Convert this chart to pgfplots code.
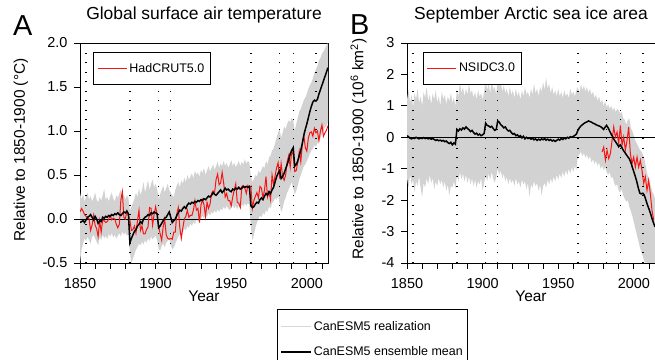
\documentclass[border=0pt]{standalone}
\usepackage{pgfplots}
\pgfplotsset{compat=1.18}
\usepackage{pgfplotstable}
\usepgfplotslibrary{fillbetween}
\usepackage{fontspec}
\setmainfont{Liberation Sans}
\definecolor{bandgray}{RGB}{210,210,210}
\definecolor{leggray}{RGB}{215,215,215}
\definecolor{obsred}{RGB}{250,20,20}
\newcommand\tickfont{\fontsize{14.5}{16}\selectfont}
\newcommand\labfont{\fontsize{15.5}{18}\selectfont}
\newcommand\titfont{\fontsize{17.5}{20}\selectfont}
\newcommand\legfont{\fontsize{12.5}{14}\selectfont}
\tikzset{volc/.style={black, line width=1.3bp, dash pattern=on 1.3bp off 8.2bp}}

\pgfplotstableread{
year lo up mean
1850 -0.50 0.30 -0.04
1851 -0.35 0.22 -0.03
1852 -0.28 0.28 -0.02
1853 -0.22 0.20 -0.04
1854 -0.25 0.25 -0.01
1855 -0.20 0.30 0.02
1856 -0.24 0.22 0.03
1857 -0.28 0.26 0.05
1858 -0.20 0.20 0.02
1859 -0.18 0.24 -0.01
1860 -0.22 0.30 0.03
1861 -0.26 0.22 0.00
1862 -0.30 0.19 -0.05
1863 -0.20 0.25 -0.02
1864 -0.24 0.21 -0.03
1865 -0.18 0.27 0.02
1866 -0.22 0.34 0.01
1867 -0.19 0.22 0.03
1868 -0.23 0.25 0.02
1869 -0.17 0.20 0.04
1870 -0.20 0.26 0.03
1871 -0.16 0.30 0.05
1872 -0.21 0.23 0.04
1873 -0.18 0.20 0.06
1874 -0.22 0.27 0.05
1875 -0.19 0.24 0.07
1876 -0.16 0.29 0.05
1877 -0.20 0.33 0.04
1878 -0.14 0.25 0.06
1879 -0.18 0.28 0.08
1880 -0.15 0.22 0.07
1881 -0.19 0.27 0.09
1882 -0.17 0.24 0.06
1883 -0.38 0.10 -0.27
1884 -0.50 0.14 -0.22
1885 -0.45 0.18 -0.18
1886 -0.40 0.23 -0.14
1887 -0.35 0.30 -0.12
1888 -0.32 0.25 -0.08
1889 -0.28 0.35 -0.06
1890 -0.30 0.27 -0.03
1891 -0.26 0.33 -0.05
1892 -0.29 0.42 0.00
1893 -0.24 0.30 0.02
1894 -0.27 0.37 0.03
1895 -0.22 0.44 0.05
1896 -0.25 0.33 0.04
1897 -0.20 0.40 0.07
1898 -0.23 0.45 0.06
1899 -0.21 0.36 0.08
1900 -0.19 0.40 0.07
1901 -0.24 0.34 0.06
1902 -0.34 0.22 -0.10
1903 -0.36 0.28 -0.08
1904 -0.31 0.33 -0.05
1905 -0.28 0.38 -0.02
1906 -0.32 0.30 0.01
1907 -0.27 0.35 0.02
1908 -0.25 0.40 0.05
1909 -0.22 0.33 0.08
1910 -0.30 0.30 0.02
1911 -0.34 0.27 -0.04
1912 -0.33 0.25 -0.02
1913 -0.28 0.33 0.00
1914 -0.24 0.38 0.04
1915 -0.20 0.42 0.07
1916 -0.17 0.36 0.10
1917 -0.20 0.44 0.09
1918 -0.14 0.40 0.12
1919 -0.11 0.47 0.14
1920 -0.13 0.42 0.12
1921 -0.08 0.50 0.16
1922 -0.10 0.45 0.18
1923 -0.05 0.48 0.17
1924 -0.08 0.52 0.19
1925 -0.03 0.46 0.18
1926 -0.06 0.55 0.20
1927 0.00 0.50 0.19
1928 -0.03 0.53 0.21
1929 0.02 0.48 0.20
1930 -0.01 0.56 0.22
1931 0.04 0.52 0.21
1932 0.01 0.58 0.23
1933 0.05 0.50 0.22
1934 0.02 0.55 0.24
1935 0.07 0.60 0.26
1936 0.04 0.54 0.25
1937 0.08 0.58 0.27
1938 0.06 0.62 0.30
1939 0.10 0.56 0.28
1940 0.07 0.60 0.27
1941 0.11 0.65 0.29
1942 0.08 0.58 0.31
1943 0.12 0.63 0.33
1944 0.10 0.60 0.30
1945 0.14 0.66 0.32
1946 0.11 0.60 0.35
1947 0.15 0.64 0.33
1948 0.12 0.58 0.34
1949 0.10 0.62 0.32
1950 0.13 0.67 0.31
1951 0.16 0.60 0.34
1952 0.12 0.64 0.33
1953 0.15 0.59 0.35
1954 0.11 0.62 0.34
1955 0.16 0.66 0.36
1956 0.13 0.60 0.34
1957 0.17 0.65 0.35
1958 0.14 0.62 0.37
1959 0.18 0.68 0.36
1960 0.15 0.63 0.37
1961 0.18 0.66 0.36
1962 0.16 0.64 0.37
1963 -0.10 0.48 0.15
1964 -0.24 0.42 0.13
1965 -0.18 0.45 0.14
1966 -0.10 0.50 0.17
1967 -0.04 0.48 0.19
1968 0.00 0.55 0.18
1969 0.04 0.52 0.22
1970 0.02 0.56 0.24
1971 0.07 0.60 0.22
1972 0.05 0.58 0.26
1973 0.10 0.66 0.29
1974 0.08 0.62 0.27
1975 0.14 0.70 0.31
1976 0.12 0.72 0.29
1977 0.18 0.78 0.33
1978 0.20 0.80 0.36
1979 0.24 0.86 0.42
1980 0.22 0.92 0.48
1981 0.26 0.98 0.52
1982 0.18 1.02 0.55
1983 0.08 0.92 0.46
1984 0.12 0.98 0.48
1985 0.20 1.05 0.52
1986 0.24 1.02 0.57
1987 0.30 1.08 0.62
1988 0.34 1.12 0.67
1989 0.38 1.10 0.74
1990 0.42 1.15 0.78
1991 0.35 1.12 0.81
1992 0.28 1.00 0.60
1993 0.32 1.08 0.62
1994 0.38 1.15 0.66
1995 0.45 1.22 0.72
1996 0.50 1.25 0.78
1997 0.55 1.30 0.86
1998 0.60 1.35 0.95
1999 0.62 1.38 1.02
2000 0.66 1.42 1.08
2001 0.70 1.48 1.15
2002 0.74 1.52 1.22
2003 0.78 1.55 1.28
2004 0.80 1.60 1.33
2005 0.84 1.66 1.35
2006 0.82 1.70 1.34
2007 0.86 1.74 1.36
2008 0.90 1.80 1.42
2009 0.92 1.83 1.47
2010 0.96 1.88 1.52
2011 1.00 1.90 1.57
2012 1.04 1.94 1.62
2013 1.06 1.97 1.67
2014 1.10 2.00 1.72
}\tabA

\pgfplotstableread{
year obs
1850 0.08
1851 0.12
1852 0.09
1853 0.05
1854 0.03
1855 0.02
1856 0.00
1857 -0.13
1858 -0.07
1859 0.04
1860 -0.07
1861 -0.11
1862 -0.20
1863 -0.02
1864 -0.15
1865 -0.01
1866 -0.02
1867 -0.04
1868 -0.03
1869 0.00
1870 0.04
1871 -0.01
1872 0.01
1873 0.00
1874 -0.06
1875 -0.10
1876 -0.06
1877 0.21
1878 0.31
1879 0.02
1880 0.00
1881 0.09
1882 0.04
1883 -0.01
1884 -0.13
1885 -0.12
1886 -0.08
1887 -0.16
1888 -0.02
1889 0.10
1890 -0.13
1891 -0.08
1892 -0.17
1893 -0.17
1894 -0.12
1895 -0.09
1896 0.13
1897 0.12
1898 -0.07
1899 0.05
1900 0.14
1901 0.05
1902 -0.08
1903 -0.17
1904 -0.24
1905 -0.09
1906 0.00
1907 -0.18
1908 -0.22
1909 -0.23
1910 -0.22
1911 -0.23
1912 -0.15
1913 -0.15
1914 0.06
1915 0.13
1916 -0.10
1917 -0.22
1918 -0.10
1919 0.00
1920 0.03
1921 0.10
1922 0.02
1923 0.04
1924 0.04
1925 0.10
1926 0.21
1927 0.10
1928 0.12
1929 -0.04
1930 0.16
1931 0.22
1932 0.16
1933 0.03
1934 0.19
1935 0.12
1936 0.17
1937 0.29
1938 0.32
1939 0.30
1940 0.45
1941 0.51
1942 0.39
1943 0.41
1944 0.53
1945 0.41
1946 0.25
1947 0.29
1948 0.21
1949 0.21
1950 0.15
1951 0.25
1952 0.33
1953 0.40
1954 0.19
1955 0.18
1956 0.13
1957 0.37
1958 0.38
1959 0.35
1960 0.29
1961 0.38
1962 0.35
1963 0.37
1964 0.12
1965 0.21
1966 0.26
1967 0.30
1968 0.24
1969 0.37
1970 0.35
1971 0.24
1972 0.33
1973 0.48
1974 0.25
1975 0.31
1976 0.22
1977 0.50
1978 0.39
1979 0.49
1980 0.58
1981 0.64
1982 0.46
1983 0.63
1984 0.48
1985 0.44
1986 0.50
1987 0.65
1988 0.72
1989 0.59
1990 0.77
1991 0.73
1992 0.54
1993 0.55
1994 0.64
1995 0.77
1996 0.65
1997 0.84
1998 0.95
1999 0.81
2000 0.77
2001 0.92
2002 0.98
2003 0.99
2004 0.94
2005 1.03
2006 0.98
2007 1.00
2008 0.89
2009 1.00
2010 1.07
2011 0.94
2012 0.98
2013 1.01
2014 1.06
}\obsA

\pgfplotstableread{
year lo up mean
1850 -1.30 1.20 0.05
1851 -1.60 1.50 0.02
1852 -1.20 1.10 -0.03
1853 -1.50 1.35 -0.05
1854 -1.35 0.95 -0.02
1855 -1.75 1.40 -0.04
1856 -1.40 1.20 0.00
1857 -1.55 1.55 -0.03
1858 -1.25 1.10 -0.05
1859 -1.60 1.30 -0.02
1860 -1.90 1.00 -0.04
1861 -1.45 1.45 -0.01
1862 -1.60 1.25 -0.04
1863 -1.30 1.60 -0.02
1864 -1.50 1.15 -0.05
1865 -1.20 1.35 -0.03
1866 -1.45 1.05 -0.06
1867 -1.30 1.40 -0.04
1868 -1.65 1.20 -0.07
1869 -1.40 1.50 -0.10
1870 -1.55 1.10 -0.08
1871 -1.30 1.30 -0.11
1872 -1.50 1.00 -0.09
1873 -1.35 1.45 -0.12
1874 -1.60 1.20 -0.10
1875 -1.40 1.35 -0.14
1876 -1.70 1.05 -0.12
1877 -1.50 1.30 -0.17
1878 -1.85 1.15 -0.20
1879 -1.55 1.40 -0.16
1880 -1.60 1.10 -0.24
1881 -1.40 1.25 -0.18
1882 -1.65 1.00 -0.22
1883 -1.20 1.50 0.25
1884 -1.40 1.30 0.20
1885 -1.10 1.75 0.27
1886 -1.35 1.40 0.23
1887 -1.15 1.60 0.30
1888 -1.40 1.30 0.26
1889 -1.20 1.55 0.33
1890 -1.45 1.35 0.28
1891 -1.25 1.70 0.24
1892 -1.50 1.40 0.18
1893 -1.30 1.50 0.22
1894 -1.55 1.25 0.15
1895 -1.35 1.45 0.10
1896 -1.60 1.20 0.13
1897 -1.40 1.50 0.07
1898 -1.50 1.30 0.10
1899 -1.30 1.40 0.05
1900 -1.70 1.20 0.08
1901 -1.45 1.45 0.12
1902 -1.20 1.80 0.45
1903 -1.40 1.50 0.38
1904 -1.15 1.70 0.36
1905 -1.35 1.40 0.32
1906 -1.10 1.85 0.35
1907 -1.30 1.50 0.28
1908 -1.45 1.60 0.22
1909 -1.25 1.35 0.25
1910 -1.00 1.90 0.52
1911 -1.20 1.60 0.48
1912 -1.05 1.75 0.40
1913 -1.30 1.45 0.36
1914 -1.15 1.65 0.30
1915 -1.40 1.40 0.33
1916 -1.25 1.55 0.25
1917 -1.50 1.30 0.20
1918 -1.30 1.60 0.22
1919 -1.45 1.35 0.15
1920 -1.35 1.50 0.10
1921 -1.55 1.25 0.12
1922 -1.30 1.55 0.05
1923 -1.50 1.30 0.08
1924 -1.40 1.45 0.02
1925 -1.60 1.20 0.05
1926 -1.35 1.50 -0.02
1927 -1.50 1.30 0.03
1928 -1.40 1.60 -0.05
1929 -1.65 1.35 0.00
1930 -1.45 1.45 -0.04
1931 -1.90 1.25 -0.02
1932 -1.50 1.55 -0.06
1933 -1.60 1.35 -0.03
1934 -1.40 1.70 -0.08
1935 -1.55 1.40 -0.05
1936 -1.45 1.55 -0.10
1937 -1.70 1.30 -0.06
1938 -1.50 1.60 -0.09
1939 -1.85 1.45 -0.05
1940 -1.55 1.75 -0.08
1941 -1.45 1.50 -0.04
1942 -1.60 1.90 -0.09
1943 -1.35 1.55 -0.06
1944 -1.50 1.70 -0.10
1945 -1.30 1.40 -0.07
1946 -1.45 1.60 -0.12
1947 -1.25 1.35 -0.09
1948 -1.40 1.50 -0.13
1949 -1.20 1.30 -0.10
1950 -1.35 1.55 -0.06
1951 -1.15 1.30 -0.09
1952 -1.30 1.45 -0.04
1953 -1.10 1.25 -0.07
1954 -1.25 1.50 -0.02
1955 -1.05 1.30 -0.05
1956 -1.20 1.40 0.00
1957 -1.00 1.25 -0.03
1958 -1.15 1.55 0.02
1959 -0.95 1.35 0.00
1960 -1.10 1.45 0.03
1961 -0.90 1.30 0.06
1962 -1.05 1.50 0.10
1963 -0.60 1.60 0.22
1964 -0.55 1.40 0.30
1965 -0.45 1.70 0.36
1966 -0.60 1.50 0.40
1967 -0.50 1.65 0.44
1968 -0.65 1.45 0.47
1969 -0.55 1.60 0.49
1970 -0.70 1.40 0.52
1971 -0.60 1.55 0.50
1972 -0.80 1.35 0.48
1973 -0.70 1.45 0.45
1974 -0.85 1.25 0.43
1975 -0.75 1.35 0.40
1976 -0.90 1.15 0.38
1977 -0.80 1.30 0.36
1978 -1.00 1.10 0.34
1979 -0.90 1.20 0.30
1980 -1.05 1.00 0.25
1981 -0.95 1.15 0.32
1982 -1.10 0.95 0.38
1983 -1.20 1.05 0.30
1984 -1.10 0.90 0.20
1985 -1.30 1.00 0.10
1986 -1.25 0.85 0.02
1987 -1.45 0.95 -0.08
1988 -1.55 0.80 -0.15
1989 -1.50 0.90 -0.22
1990 -1.70 0.85 -0.30
1991 -1.75 0.75 -0.24
1992 -1.65 0.80 -0.32
1993 -1.85 0.60 -0.41
1994 -1.95 0.55 -0.48
1995 -2.05 0.40 -0.55
1996 -2.00 0.55 -0.62
1997 -2.20 0.60 -0.68
1998 -2.35 0.30 -0.80
1999 -2.50 0.20 -0.95
2000 -2.70 0.05 -1.10
2001 -2.90 -0.10 -1.25
2002 -3.10 -0.20 -1.42
2003 -3.30 -0.30 -1.62
2004 -3.50 -0.40 -1.78
2005 -3.65 -0.45 -1.80
2006 -3.80 -0.55 -1.78
2007 -3.95 -0.70 -1.85
2008 -4.00 -0.95 -2.00
2009 -4.00 -1.20 -2.15
2010 -4.00 -1.35 -2.28
2011 -4.00 -1.50 -2.42
2012 -4.00 -1.70 -2.58
2013 -4.00 -1.80 -2.72
2014 -4.00 -1.95 -2.85
}\tabB

\pgfplotstableread{
year obs
1979.0 -0.47
1980.1 -0.31
1981.2 -0.73
1982.3 -0.41
1983.4 -0.68
1984.5 -0.52
1985.6 -0.10
1986.7 0.33
1987.8 0.01
1988.9 0.17
1990.0 -0.20
1991.1 0.38
1992.2 -0.25
1993.3 0.01
1994.4 -0.41
1995.5 -0.10
1996.6 0.33
1997.7 -0.52
1998.8 -0.84
1999.9 -0.63
2001.0 -0.95
2002.1 -0.63
2003.2 -0.95
2004.3 -0.73
2005.4 -1.05
2006.5 -1.47
2007.6 -1.26
2008.7 -1.69
2009.8 -1.37
2010.9 -1.79
2012.0 -2.32
2013.1 -2.63
}\obsB

\pgfplotsset{
  panel/.style={
    width=248bp, height=220bp, scale only axis,
    xmin=1850, xmax=2014,
    tick align=outside, tick pos=left,
    major tick length=6bp,
    axis line style={line width=0.8bp},
    tick style={black, line width=0.8bp},
    xtick={1850,1860,...,2010},
    xticklabels={1850,,,,,1900,,,,,1950,,,,,2000,},
    ticklabel style={font=\tickfont},
    xticklabel style={anchor=base, yshift=-20bp},
    yticklabel style={xshift=-3bp},
    xlabel={Year},
    xlabel style={font=\labfont, at={(axis description cs:0.5,0)}, anchor=base, yshift=-38.7bp},
    ylabel style={font=\labfont, anchor=base west},
    title style={font=\titfont, at={(axis description cs:0.5,1)}, anchor=base, yshift=18bp},
    legend style={anchor=north west, draw=black, line width=0.8bp, font=\legfont,
      inner xsep=4bp, inner ysep=9bp, nodes={inner sep=2bp},
      /tikz/every even column/.append style={column sep=4bp}},
    legend cell align=left,
    legend image code/.code={\draw[#1, line width=1.1bp] (0bp,0bp) -- (29bp,0bp);},
  }
}

\begin{document}
\begin{tikzpicture}
\begin{axis}[panel, at={(80bp,97bp)}, anchor=south west,
  ymin=-0.5, ymax=2,
  ytick={-0.5,0,0.5,1,1.5,2},
  yticklabels={-0.5,0.0,0.5,1.0,1.5,2.0},
  ylabel={Relative to 1850-1900 (°C)},
  ylabel style={at={(axis description cs:-0.222,0.082)}},
  title={Global surface air temperature},
  legend style={at={(0.0524,0.9606)}},
]
\addplot[name path=upA, draw=none, forget plot] table[x=year,y=up]{\tabA};
\addplot[name path=loA, draw=none, forget plot] table[x=year,y=lo]{\tabA};
\addplot[bandgray, forget plot] fill between[of=upA and loA];
\draw[volc] (1854,-0.5) -- (1854,2);
\draw[volc] (1883,-0.5) -- (1883,2);
\draw[volc] (1902,-0.5) -- (1902,2);
\draw[volc] (1910,-0.5) -- (1910,2);
\draw[volc] (1963,-0.5) -- (1963,2);
\draw[volc] (1982,-0.5) -- (1982,2);
\draw[volc] (1991,-0.5) -- (1991,2);
\draw[volc] (2006,-0.5) -- (2006,2);
\draw[black, line width=0.8bp] (1850,0) -- (2014,0);
\addplot[obsred, line width=1bp] table[x=year,y=obs]{\obsA};
\addlegendentry{HadCRUT5.0}
\addplot[black, line width=1.5bp, forget plot] table[x=year,y=mean]{\tabA};
\end{axis}

\begin{axis}[panel, at={(407bp,97bp)}, anchor=south west,
  ymin=-4, ymax=3,
  ytick={-4,-3,-2,-1,0,1,2,3},
  yticklabels={-4,-3,-2,-1,0,1,2,3},
  ylabel={Relative to 1850-1900 (10\textsuperscript{6} km\textsuperscript{2})},
  ylabel style={at={(axis description cs:-0.176,0.0)}},
  title={September Arctic sea ice area},
  legend style={at={(0.0625,0.9606)}},
]
\addplot[name path=upB, draw=none, forget plot] table[x=year,y=up]{\tabB};
\addplot[name path=loB, draw=none, forget plot] table[x=year,y=lo]{\tabB};
\addplot[bandgray, forget plot] fill between[of=upB and loB];
\draw[volc] (1854,-4) -- (1854,3);
\draw[volc] (1883,-4) -- (1883,3);
\draw[volc] (1902,-4) -- (1902,3);
\draw[volc] (1910,-4) -- (1910,3);
\draw[volc] (1963,-4) -- (1963,3);
\draw[volc] (1982,-4) -- (1982,3);
\draw[volc] (1991,-4) -- (1991,3);
\draw[volc] (2006,-4) -- (2006,3);
\draw[black, line width=0.8bp] (1850,0) -- (2014,0);
\addplot[obsred, line width=1bp] table[x=year,y=obs]{\obsB};
\addlegendentry{NSIDC3.0}
\addplot[black, line width=1.5bp, forget plot] table[x=year,y=mean]{\tabB};
\end{axis}

\begin{axis}[at={(0bp,0bp)}, anchor=south west, width=655bp, height=360bp,
  scale only axis, hide axis, xmin=0, xmax=1, ymin=0, ymax=1,
  legend style={at={(0.4229,0.1417)}, anchor=north west, draw=black, line width=0.8bp,
    font=\legfont, inner xsep=3bp, inner ysep=10bp, nodes={inner sep=2bp}, row sep=11bp,
    /tikz/every even column/.append style={column sep=5bp}},
  legend cell align=left,
  legend image code/.code={\draw[#1] (0bp,0bp) -- (30bp,0bp);},
]
\addlegendimage{leggray, line width=1bp}
\addlegendentry{CanESM5 realization}
\addlegendimage{black, line width=1.5bp}
\addlegendentry{CanESM5 ensemble mean}
\end{axis}

\node[anchor=base west, font=\fontsize{29}{30}\selectfont, inner sep=0pt] at (13bp,324bp) {A};
\node[anchor=base west, font=\fontsize{29}{30}\selectfont, inner sep=0pt] at (350bp,325bp) {B};

\pgfresetboundingbox
\path[use as bounding box] (0bp,0bp) rectangle (655bp,360bp);
\end{tikzpicture}
\end{document}
